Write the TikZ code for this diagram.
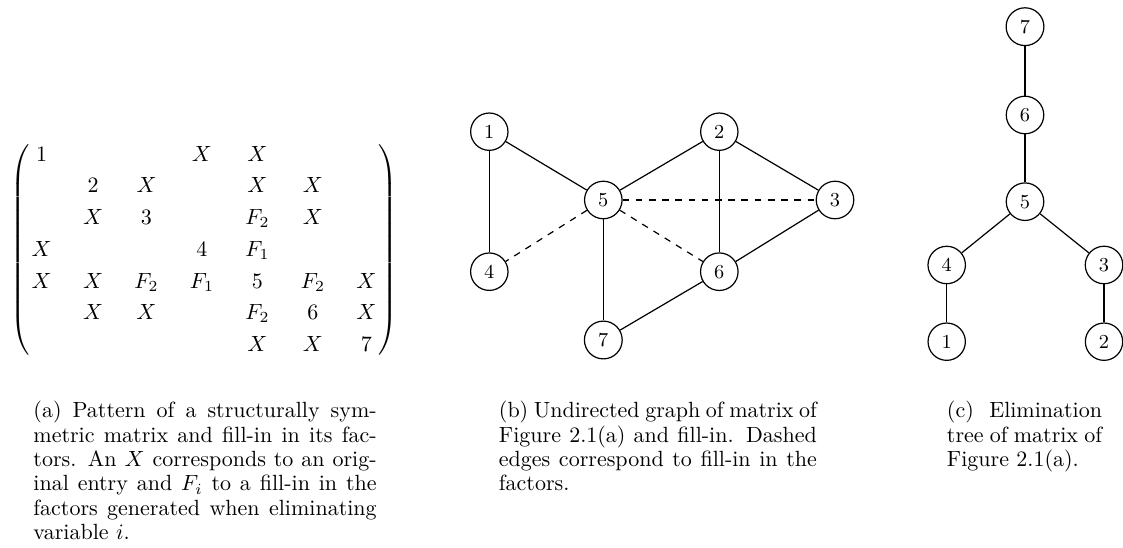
\documentclass[tikz,border=0pt]{standalone}
\begin{document}
\begin{tikzpicture}[x=0.4545pt,y=-0.4545pt,
  vtx/.style={circle,draw,line width=0.55pt,inner sep=0.3333em,font=\small},
  edge/.style={line width=0.55pt},
  fillin/.style={line width=0.55pt,dash pattern=on 3pt off 3pt},
  capt/.style={font=\fontsize{10pt}{11.05pt}\selectfont,align=justify,inner sep=0pt,anchor=north west}]
\useasboundingbox (0,0) rectangle (1123,548);
% (a) matrix
\node[inner sep=0pt] (mat) at (204,250) {%
  \setlength{\arraycolsep}{7.15pt}\renewcommand{\arraystretch}{1.2}%
  $\left(\begin{array}{@{\hspace{1pt}}ccccccc@{\hspace{1pt}}}
  1 & & & X & X & & \\
  & 2 & X & & X & X & \\
  & X & 3 & & F_2 & X & \\
  X & & & 4 & F_1 & & \\
  X & X & F_2 & F_1 & 5 & F_2 & X \\
  & X & X & & F_2 & 6 & X \\
  & & & & X & X & 7
  \end{array}\right)$};
% (b) graph
\node[vtx] (n1) at (489.3,131.7) {1};
\node[vtx] (n2) at (719.3,131.7) {2};
\node[vtx] (n5) at (603.3,200) {5};
\node[vtx] (n3) at (835,200) {3};
\node[vtx] (n4) at (489.3,271.7) {4};
\node[vtx] (n6) at (719.3,271.7) {6};
\node[vtx] (n7) at (603.3,340) {7};
\draw[edge] (n1) -- (n5);
\draw[edge] (n1) -- (n4);
\draw[edge] (n2) -- (n5);
\draw[edge] (n2) -- (n6);
\draw[edge] (n2) -- (n3);
\draw[edge] (n3) -- (n6);
\draw[edge] (n5) -- (n7);
\draw[edge] (n6) -- (n7);
\draw[fillin] (n5) -- (n4);
\draw[fillin] (n5) -- (n3);
\draw[fillin] (n5) -- (n6);
% (c) elimination tree
\node[vtx] (t7) at (1025,26.7) {7};
\node[vtx] (t6) at (1025,115) {6};
\node[vtx] (t5) at (1025,201.7) {5};
\node[vtx] (t4) at (946.7,265) {4};
\node[vtx] (t3) at (1104,265) {3};
\node[vtx] (t1) at (946.7,341.7) {1};
\node[vtx] (t2) at (1104,341.7) {2};
\draw[edge] (t7) -- (t6);
\draw[edge] (t6) -- (t5);
\draw[edge] (t5) -- (t4);
\draw[edge] (t5) -- (t3);
\draw[edge] (t4) -- (t1);
\draw[edge] (t3) -- (t2);
% captions
\node[capt,text width=156pt] (capa) at (33,401) {(a) Pattern of a structurally symmetric matrix and fill-in in its factors. An $X$ corresponds to an original entry and $F_i$ to a fill-in in the factors generated when eliminating variable~$i$.};
\node[capt,text width=144.5pt] (capb) at (498.5,401) {(b) Undirected graph of matrix of Figure 2.1(a) and fill-in. Dashed edges correspond to fill-in in the factors.};
\node[capt,text width=70.5pt] (capc) at (946.5,401) {(c) Elimination tree of matrix of Figure 2.1(a).};
\end{tikzpicture}
\end{document}
